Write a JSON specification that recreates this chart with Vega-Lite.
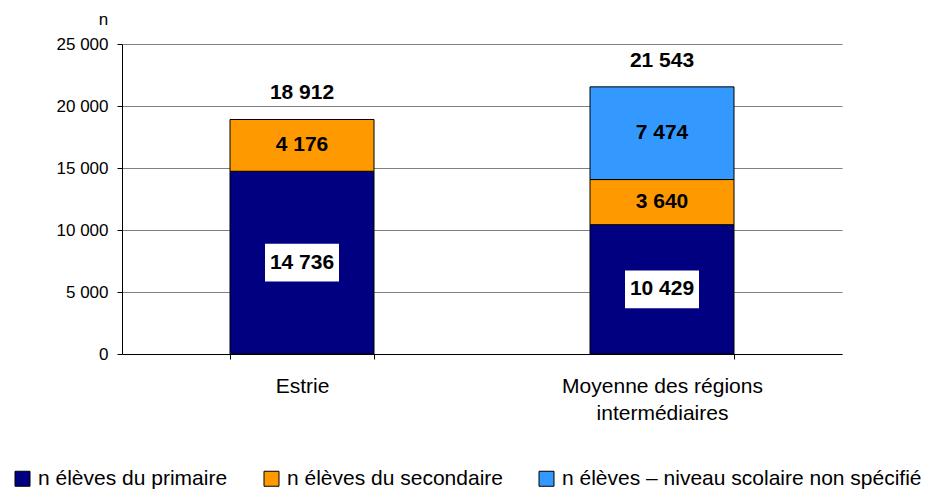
{
  "$schema": "https://vega.github.io/schema/vega-lite/v6.json",
  "width": 720,
  "height": 310,
  "autosize": {"type": "none"},
  "padding": {"left": 122, "top": 44, "right": 93, "bottom": 135},
  "background": "white",
  "config": {
    "font": "Liberation Sans, Arial, sans-serif",
    "text": {"font": "Liberation Sans, Arial, sans-serif"},
    "axis": {"labelFont": "Liberation Sans, Arial, sans-serif", "titleFont": "Liberation Sans, Arial, sans-serif"},
    "legend": {"labelFont": "Liberation Sans, Arial, sans-serif"},
    "locale": {"number": {"decimal": ",", "thousands": " ", "grouping": [3], "currency": ["", " $"]}},
    "view": {"stroke": null}
  },
  "data": {
    "values": [
      {"region": "Estrie", "niveau": "n élèves du primaire", "rang": 1, "value": 14736},
      {"region": "Estrie", "niveau": "n élèves du secondaire", "rang": 2, "value": 4176},
      {"region": "Moyenne des régions intermédiaires", "niveau": "n élèves du primaire", "rang": 1, "value": 10429},
      {"region": "Moyenne des régions intermédiaires", "niveau": "n élèves du secondaire", "rang": 2, "value": 3640},
      {"region": "Moyenne des régions intermédiaires", "niveau": "n élèves – niveau scolaire non spécifié", "rang": 3, "value": 7474}
    ]
  },
  "encoding": {
    "x": {
      "field": "region",
      "type": "nominal",
      "sort": null,
      "title": null,
      "scale": {"paddingInner": 0.6, "paddingOuter": 0.3},
      "axis": {
        "labelAngle": 0,
        "labelFontSize": 21,
        "labelColor": "black",
        "labelLimit": 0,
        "tickBand": "extent",
        "tickSize": 5,
        "tickColor": "black",
        "domainColor": "black",
        "labelPadding": 16,
        "labelLineHeight": 27,
        "grid": false,
        "labelExpr": "datum.value == 'Moyenne des régions intermédiaires' ? ['Moyenne des régions', 'intermédiaires'] : datum.label"
      }
    }
  },
  "layer": [
    {
      "mark": {"type": "bar", "stroke": "black", "strokeWidth": 1},
      "encoding": {
        "y": {
          "field": "value",
          "type": "quantitative",
          "stack": "zero",
          "title": "n",
          "scale": {"domain": [0, 25000], "nice": false},
          "axis": {
            "values": [0, 5000, 10000, 15000, 20000, 25000],
            "format": ",d",
            "titleAngle": 0,
            "titleX": -19,
            "titleY": -20,
            "titleAlign": "center",
            "titleBaseline": "alphabetic",
            "titleFontSize": 17,
            "titleFontWeight": "normal",
            "titleColor": "black",
            "labelFontSize": 17,
            "labelColor": "black",
            "tickSize": 5,
            "labelPadding": 9,
            "tickColor": "black",
            "domainColor": "black",
            "grid": true,
            "gridColor": "#808080"
          }
        },
        "color": {
          "field": "niveau",
          "type": "nominal",
          "scale": {
            "domain": ["n élèves du primaire", "n élèves du secondaire", "n élèves – niveau scolaire non spécifié"],
            "range": ["#000080", "#FF9900", "#3399FF"]
          },
          "legend": {
            "title": null,
            "orient": "none",
            "legendX": -110,
            "legendY": 424,
            "direction": "horizontal",
            "symbolType": "square",
            "symbolSize": 225,
            "symbolStrokeColor": "black",
            "symbolStrokeWidth": 1,
            "symbolOpacity": 1,
            "labelFontSize": 21,
            "labelColor": "black",
            "labelLimit": 0,
            "labelOffset": 5,
            "columnPadding": 33
          }
        },
        "order": {"field": "rang"}
      }
    },
    {
      "transform": [{"filter": "datum.rang == 1"}],
      "mark": {"type": "point", "shape": "M-1,-0.51H1V0.51H-1Z", "filled": true, "fill": "white", "opacity": 1, "strokeWidth": 0, "size": 5476},
      "encoding": {
        "y": {"field": "value", "type": "quantitative", "stack": "zero", "bandPosition": 0.5, "title": "n"},
        "detail": {"field": "niveau"}
      }
    },
    {
      "mark": {"type": "text", "fontSize": 21, "fontWeight": "bold", "color": "black", "baseline": "middle"},
      "encoding": {
        "y": {"field": "value", "type": "quantitative", "stack": "zero", "bandPosition": 0.5, "title": "n"},
        "detail": {"field": "niveau"},
        "order": {"field": "rang"},
        "text": {"field": "value", "type": "quantitative", "format": ",d"}
      }
    },
    {
      "transform": [{"aggregate": [{"op": "sum", "field": "value", "as": "total"}], "groupby": ["region"]}],
      "mark": {"type": "text", "fontSize": 21, "fontWeight": "bold", "color": "black", "baseline": "alphabetic", "dy": -20},
      "encoding": {
        "y": {"field": "total", "type": "quantitative", "title": "n"},
        "text": {"field": "total", "type": "quantitative", "format": ",d"}
      }
    }
  ]
}
